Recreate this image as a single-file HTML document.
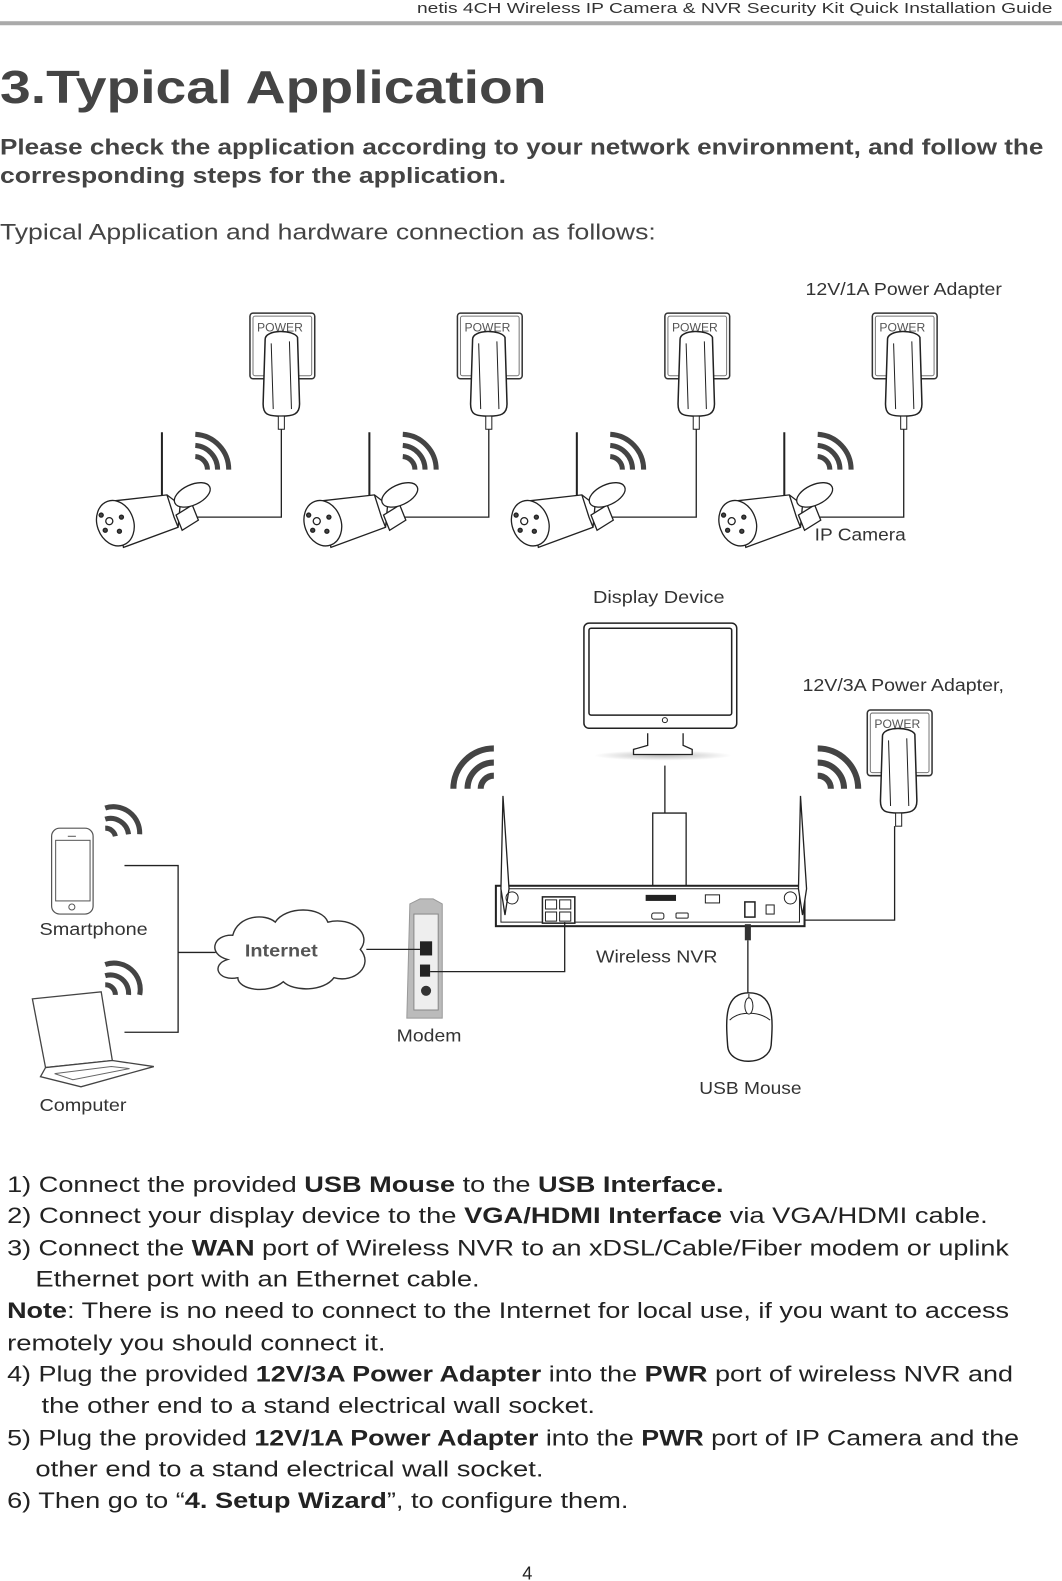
<!DOCTYPE html>
<html><head><meta charset="utf-8"><style>
html,body{margin:0;padding:0;background:#fff;overflow:hidden;}
svg{display:block;}
text{font-family:"Liberation Sans",Arial,sans-serif;}
</style></head><body>
<svg width="1062" height="1581" viewBox="0 0 1062 1581" xmlns="http://www.w3.org/2000/svg">
<defs>
<radialGradient id="sh" cx="0.5" cy="0.5" r="0.5"><stop offset="0" stop-color="#bbb"/><stop offset="1" stop-color="#fff"/></radialGradient>
<g id="cam" fill="#fff" stroke="#222" stroke-width="1.3">
  <line x1="160" y1="428" x2="160" y2="497" stroke-width="2"/>
  <path d="M112,496 L165,490 L178,500 L176,522 L122,542 Z"/>
  <path d="M165,490 L172,512 L176,522" fill="none"/>
  <path d="M174,510 L190,500 L196,515 L180,525 Z"/>
  <ellipse cx="190" cy="490" rx="19" ry="10" transform="rotate(-25 190 490)"/>
  <ellipse cx="114" cy="518" rx="18" ry="23" transform="rotate(-20 114 518)"/>
  <circle cx="108" cy="516" r="3.5"/><circle cx="120" cy="512" r="2" fill="#444"/><circle cx="104" cy="525" r="2" fill="#444"/><circle cx="118" cy="526" r="2" fill="#444"/><circle cx="100" cy="510" r="2" fill="#444"/>
</g>
<g id="pw">
  <rect x="247" y="310" width="64" height="65" rx="3" fill="#fff" stroke="#333" stroke-width="1.5"/>
  <rect x="250" y="313" width="58" height="59" rx="2" fill="none" stroke="#777" stroke-width="1"/>
  <text x="254" y="328" font-size="12" fill="#555">POWER</text>
  <path d="M262,336 C262,326 290,326 294,334 L296,400 C296,410 290,412 278,412 C264,412 260,410 260,400 Z" fill="#fff" stroke="#222" stroke-width="1.5"/>
  <path d="M268,340 L270,405 M286,338 L288,405" stroke="#222" fill="none"/>
  <rect x="275" y="412" width="6" height="13" fill="#fff" stroke="#222"/>
</g>
<g id="wf" fill="none" stroke="#444" stroke-width="5">
  <path d="M193,441 A24,24 0 0 1 215,465"/>
  <path d="M193,430 A35,35 0 0 1 226,465"/>
  <path d="M193,452 A13,13 0 0 1 205,465"/>
</g>
</defs>
<g transform="scale(1.012,1.01)">
<text x="1040" y="13" font-size="15" fill="#333" text-anchor="end" textLength="628" lengthAdjust="spacingAndGlyphs">netis 4CH Wireless IP Camera &amp; NVR Security Kit Quick Installation Guide</text>
<rect x="0" y="21" width="1062" height="4" fill="#aaa"/>
<text x="0" y="102" font-size="46" font-weight="bold" fill="#444" textLength="540" lengthAdjust="spacingAndGlyphs">3.Typical Application</text>
<text x="0" y="153" font-size="22" font-weight="bold" fill="#444" textLength="1031" lengthAdjust="spacingAndGlyphs">Please check the application according to your network environment, and follow the</text>
<text x="0" y="181" font-size="22" font-weight="bold" fill="#444" textLength="500" lengthAdjust="spacingAndGlyphs">corresponding steps for the application.</text>
<text x="0" y="237" font-size="22" fill="#444" textLength="648" lengthAdjust="spacingAndGlyphs">Typical Application and hardware connection as follows:</text>

<g fill="none" stroke="#222" stroke-width="1.3">
<path d="M278,425 V512 H193"/><path d="M483,425 V512 H398"/><path d="M688,425 V512 H603"/><path d="M893,425 V512 H808"/>
</g>
<use href="#cam"/><use href="#cam" x="205"/><use href="#cam" x="410"/><use href="#cam" x="615"/>
<use href="#pw"/><use href="#pw" x="205"/><use href="#pw" x="410"/><use href="#pw" x="615"/>
<use href="#wf"/><use href="#wf" x="205"/><use href="#wf" x="410"/><use href="#wf" x="615"/>
<text x="796" y="292" font-size="17" fill="#333" textLength="194" lengthAdjust="spacingAndGlyphs">12V/1A Power Adapter</text>
<text x="805" y="535" font-size="17" fill="#333" textLength="90" lengthAdjust="spacingAndGlyphs">IP Camera</text>

<text x="586" y="597" font-size="17" fill="#333" textLength="130" lengthAdjust="spacingAndGlyphs">Display Device</text>
<ellipse cx="655" cy="748" rx="68" ry="5" fill="url(#sh)"/>
<rect x="577" y="617" width="151" height="104" rx="5" fill="#fff" stroke="#222" stroke-width="1.5"/>
<rect x="582" y="622" width="141" height="86" rx="2" fill="#fff" stroke="#222" stroke-width="1.5"/>
<circle cx="657" cy="713" r="2.5" fill="none" stroke="#222"/>
<path d="M640,726 V738 L626,742 V747 H684 V742 L675,738 V726" fill="#fff" stroke="#222" stroke-width="1.3"/>
<path d="M657,758 V805" stroke="#222" stroke-width="1.3" fill="none"/>
<path d="M645,888 V805 H678 V888" stroke="#222" stroke-width="1.3" fill="none"/>

<g fill="none" stroke="#444" stroke-width="6">
<path d="M488,741 A40,40 0 0 0 448,781"/><path d="M488,755 A26,26 0 0 0 462,781"/><path d="M488,768 A13,13 0 0 0 475,781"/>
<path d="M808,741 A40,40 0 0 1 848,781"/><path d="M808,755 A26,26 0 0 1 834,781"/><path d="M808,768 A13,13 0 0 1 821,781"/>
</g>

<text x="793" y="684" font-size="17" fill="#333" textLength="199" lengthAdjust="spacingAndGlyphs">12V/3A Power Adapter,</text>
<use href="#pw" x="610" y="393"/>
<path d="M884,818 V911 H795" fill="none" stroke="#222" stroke-width="1.3"/>

<rect x="490" y="877" width="305" height="40" fill="#fff" stroke="#222" stroke-width="2"/>
<path d="M495,880 V913 H790 V880 H495" fill="none" stroke="#222" stroke-width="1"/>
<path d="M497,788 L495,880 L499,906 L503,880 Z M791,788 L789,880 L793,906 L797,880 Z" fill="#fff" stroke="#222" stroke-width="1.3"/>
<circle cx="506" cy="889" r="6" fill="none" stroke="#222"/><circle cx="781" cy="889" r="6" fill="none" stroke="#222"/>
<rect x="536" y="888" width="32" height="26" fill="#fff" stroke="#222" stroke-width="1.5"/>
<path d="M539,891h11v9h-11zM553,891h11v9h-11zM539,903h11v9h-11zM553,903h11v9h-11z" fill="none" stroke="#222"/>
<rect x="638" y="886" width="30" height="6" fill="#222"/>
<rect x="644" y="904" width="12" height="6" rx="2" fill="none" stroke="#222"/>
<rect x="668" y="904" width="12" height="5" rx="1" fill="none" stroke="#222"/>
<rect x="697" y="886" width="14" height="8" fill="none" stroke="#222"/>
<rect x="736" y="893" width="10" height="15" fill="none" stroke="#222" stroke-width="1.5"/>
<rect x="757" y="896" width="8" height="9" fill="none" stroke="#222"/>
<rect x="736" y="915" width="6" height="16" fill="#333"/>
<path d="M739,931 V985" stroke="#222" stroke-width="1.3"/>
<text x="589" y="953" font-size="17" fill="#333" textLength="120" lengthAdjust="spacingAndGlyphs">Wireless NVR</text>

<path d="M740,983 C765,983 764,1008 762,1035 C760,1055 720,1057 719,1035 C717,1008 716,983 740,983 Z" fill="#fff" stroke="#222" stroke-width="1.4"/>
<path d="M740,984 V1001 M721,1010 C730,1001 750,1001 761,1010" fill="none" stroke="#222"/>
<ellipse cx="740" cy="996" rx="4" ry="8" fill="#fff" stroke="#222"/>
<text x="691" y="1083" font-size="17" fill="#333" textLength="101" lengthAdjust="spacingAndGlyphs">USB Mouse</text>

<path d="M405,895 L415,890 H428 L437,895 V1008 H402 Z" fill="#bbb" stroke="#999"/>
<rect x="409" y="905" width="24" height="95" fill="#eee" stroke="#888"/>
<rect x="415" y="932" width="12" height="14" fill="#222"/>
<rect x="415" y="955" width="10" height="12" fill="#222"/>
<circle cx="421" cy="981" r="5" fill="#333"/>
<path d="M415,940 H362 M425,962 H558 V913" fill="none" stroke="#222" stroke-width="1.3"/>
<text x="392" y="1031" font-size="17" fill="#333" textLength="64" lengthAdjust="spacingAndGlyphs">Modem</text>

<path d="M225,950 C205,945 210,925 230,926 C235,906 262,904 272,913 C282,897 318,897 324,913 C348,907 368,925 356,940 C370,956 350,974 330,968 C320,982 290,982 280,972 C265,985 235,980 235,968 C215,972 208,955 225,950 Z" fill="#fff" stroke="#333" stroke-width="1.4"/>
<text x="242" y="947" font-size="17" font-weight="bold" fill="#555" textLength="72" lengthAdjust="spacingAndGlyphs">Internet</text>
<path d="M123,857 H176 V1022 H123 M176,943 H213" fill="none" stroke="#222" stroke-width="1.3"/>

<rect x="51" y="820" width="41" height="85" rx="8" fill="#fff" stroke="#555" stroke-width="1.2"/>
<rect x="55" y="832" width="34" height="60" fill="#fff" stroke="#555"/>
<circle cx="71" cy="898" r="3" fill="none" stroke="#555"/>
<line x1="67" y1="828" x2="75" y2="828" stroke="#555"/>
<text x="39" y="926" font-size="17" fill="#333" textLength="107" lengthAdjust="spacingAndGlyphs">Smartphone</text>
<g fill="none" stroke="#444" stroke-width="5">
<path d="M104,800 A26,26 0 0 1 138,826"/><path d="M104,811 A18,18 0 0 1 127,826"/><path d="M104,820 A10,10 0 0 1 114,828"/>
<path d="M104,955 A26,26 0 0 1 138,985"/><path d="M104,966 A18,18 0 0 1 127,985"/><path d="M104,975 A10,10 0 0 1 114,985"/>
</g>

<path d="M32,989 L100,982 L111,1050 L45,1057 Z" fill="#fff" stroke="#444" stroke-width="1.3"/>
<path d="M45,1057 L111,1050 L152,1056 L80,1076 L40,1066 Z" fill="#fff" stroke="#444" stroke-width="1.3"/>
<path d="M54,1063 L110,1056 L128,1058 L72,1069 Z" fill="none" stroke="#666"/>
<text x="39" y="1100" font-size="17" fill="#333" textLength="86" lengthAdjust="spacingAndGlyphs">Computer</text>

<g font-size="22" fill="#222">
<text x="7" y="1180" textLength="708" lengthAdjust="spacingAndGlyphs">1) Connect the provided <tspan font-weight="bold">USB Mouse</tspan> to the <tspan font-weight="bold">USB Interface.</tspan></text>
<text x="7" y="1211" textLength="969" lengthAdjust="spacingAndGlyphs">2) Connect your display device to the <tspan font-weight="bold">VGA/HDMI Interface</tspan> via VGA/HDMI cable.</text>
<text x="7" y="1243" textLength="990" lengthAdjust="spacingAndGlyphs">3) Connect the <tspan font-weight="bold">WAN</tspan> port of Wireless NVR to an xDSL/Cable/Fiber modem or uplink</text>
<text x="35" y="1274" textLength="439" lengthAdjust="spacingAndGlyphs">Ethernet port with an Ethernet cable.</text>
<text x="7" y="1305" textLength="990" lengthAdjust="spacingAndGlyphs"><tspan font-weight="bold">Note</tspan>: There is no need to connect to the Internet for local use, if you want to access</text>
<text x="7" y="1337" textLength="374" lengthAdjust="spacingAndGlyphs">remotely you should connect it.</text>
<text x="7" y="1368" textLength="994" lengthAdjust="spacingAndGlyphs">4) Plug the provided <tspan font-weight="bold">12V/3A Power Adapter</tspan> into the <tspan font-weight="bold">PWR</tspan> port of wireless NVR and</text>
<text x="41" y="1399" textLength="547" lengthAdjust="spacingAndGlyphs">the other end to a stand electrical wall socket.</text>
<text x="7" y="1431" textLength="1000" lengthAdjust="spacingAndGlyphs">5) Plug the provided <tspan font-weight="bold">12V/1A Power Adapter</tspan> into the <tspan font-weight="bold">PWR</tspan> port of IP Camera and the</text>
<text x="35" y="1462" textLength="502" lengthAdjust="spacingAndGlyphs">other end to a stand electrical wall socket.</text>
<text x="7" y="1493" textLength="614" lengthAdjust="spacingAndGlyphs">6) Then go to “<tspan font-weight="bold">4. Setup Wizard</tspan>”, to configure them.</text>
</g>
<text x="516" y="1564" font-size="18" fill="#222">4</text>
</g>
</svg>
</body></html>
